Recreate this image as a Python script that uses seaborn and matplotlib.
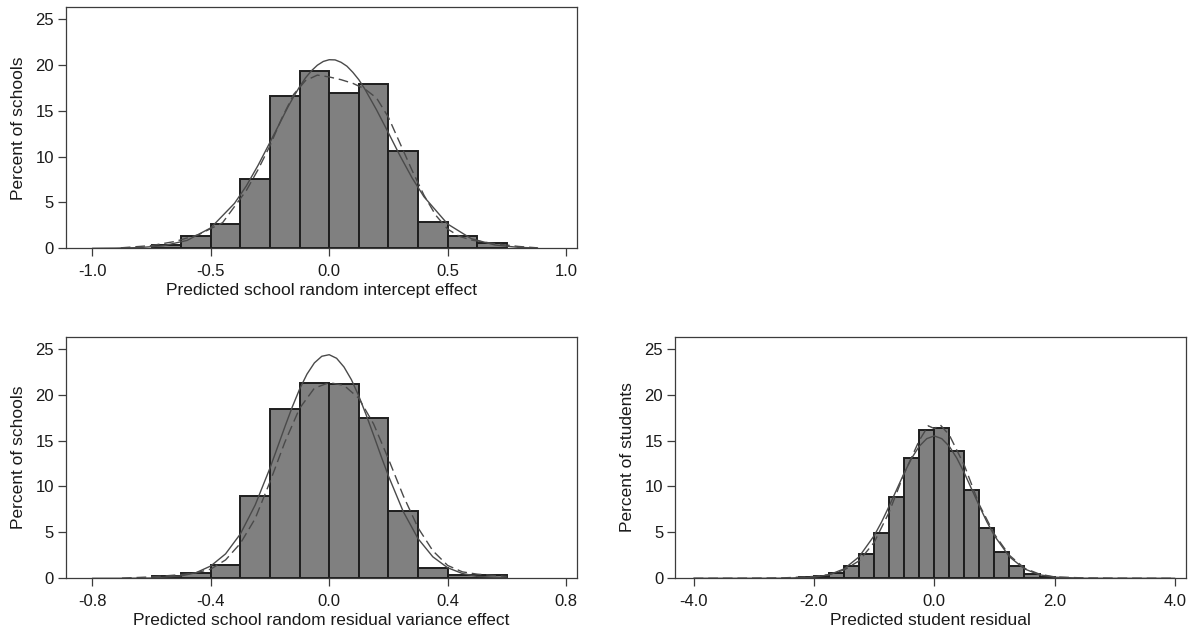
import numpy as np
import matplotlib
matplotlib.use("Agg")
import matplotlib.pyplot as plt
from matplotlib.ticker import FormatStrFormatter
import seaborn as sns

# ---- données ----
# Panneau 1 : effet aléatoire école (intercept)
intercept_edges = [-0.75, -0.625, -0.5, -0.375, -0.25, -0.125, 0.0, 0.125, 0.25, 0.375, 0.5, 0.625, 0.75]
intercept_pct = [0.4, 1.3, 2.65, 7.6, 16.6, 19.3, 17.0, 17.95, 10.6, 2.9, 1.3, 0.6]
intercept_normal_x = [-1.0, -0.9, -0.8, -0.7, -0.6, -0.5, -0.4, -0.35, -0.3, -0.25, -0.2, -0.175, -0.15,
                      -0.125, -0.1, -0.075, -0.05, -0.025, 0.0, 0.025, 0.05, 0.075, 0.1, 0.125, 0.15,
                      0.2, 0.25, 0.3, 0.35, 0.4, 0.5, 0.6, 0.7, 0.8, 0.88]
intercept_normal_y = [0.0, 0.02, 0.08, 0.28, 0.86, 2.23, 4.9, 6.8, 9.07, 11.57, 14.1, 15.38, 16.55,
                      17.63, 18.6, 19.37, 19.98, 20.39, 20.58, 20.56, 20.3, 19.87, 19.2, 18.4, 17.4,
                      15.1, 12.6, 10.05, 7.68, 5.63, 2.65, 1.05, 0.36, 0.1, 0.03]
intercept_kde_x = [-0.88, -0.75, -0.65, -0.55, -0.45, -0.35, -0.3, -0.25, -0.2, -0.15, -0.1, -0.05,
                   0.0, 0.05, 0.1, 0.15, 0.2, 0.25, 0.3, 0.35, 0.4, 0.45, 0.5, 0.55, 0.6, 0.7, 0.8, 0.88]
intercept_kde_y = [0.05, 0.3, 0.75, 1.5, 2.8, 6.3, 8.6, 11.2, 14.2, 16.8, 18.3, 18.9,
                   18.7, 18.4, 18.0, 17.4, 16.4, 14.3, 11.4, 8.5, 5.8, 3.6, 2.1, 1.3, 0.9, 0.5, 0.2, 0.05]

# Panneau 2 : effet aléatoire école (variance résiduelle)
variance_edges = [-0.6, -0.5, -0.4, -0.3, -0.2, -0.1, 0.0, 0.1, 0.2, 0.3, 0.4, 0.5, 0.6]
variance_pct = [0.25, 0.6, 1.4, 9.0, 18.4, 21.3, 21.2, 17.4, 7.3, 1.1, 0.35, 0.4]
variance_normal_x = [-0.8, -0.7, -0.6, -0.5, -0.45, -0.4, -0.35, -0.3, -0.25, -0.2, -0.175, -0.15, -0.125,
                     -0.1, -0.075, -0.05, -0.025, 0.0, 0.025, 0.05, 0.075, 0.1, 0.125, 0.15, 0.175,
                     0.2, 0.25, 0.3, 0.35, 0.4, 0.45, 0.5, 0.6]
variance_normal_y = [0.0, 0.0, 0.03, 0.26, 0.61, 1.34, 2.66, 4.83, 7.98, 12.0, 14.23, 16.47, 18.63,
                     20.59, 22.23, 23.45, 24.17, 24.34, 23.95, 23.0, 21.62, 19.84, 17.78, 15.58, 13.32,
                     11.15, 7.27, 4.32, 2.34, 1.15, 0.52, 0.21, 0.03]
variance_kde_x = [-0.7, -0.6, -0.5, -0.45, -0.4, -0.35, -0.3, -0.25, -0.2, -0.15, -0.1, -0.05,
                  0.0, 0.05, 0.1, 0.15, 0.2, 0.25, 0.3, 0.35, 0.4, 0.45, 0.5, 0.6]
variance_kde_y = [0.02, 0.15, 0.4, 0.6, 1.0, 2.0, 3.8, 6.5, 10.5, 14.8, 18.5, 20.7,
                  21.3, 21.0, 19.6, 16.8, 13.0, 9.0, 5.5, 3.0, 1.4, 0.7, 0.45, 0.2]

# Panneau 3 : résidu élève
student_edges = [-2.25, -2.0, -1.75, -1.5, -1.25, -1.0, -0.75, -0.5, -0.25, 0.0,
                 0.25, 0.5, 0.75, 1.0, 1.25, 1.5, 1.75, 2.0]
student_pct = [0.1, 0.25, 0.6, 1.35, 2.65, 4.9, 8.8, 13.15, 16.1, 16.4,
               13.85, 9.6, 5.5, 2.85, 1.3, 0.45, 0.18]
student_normal_x = [-4.0, -3.0, -2.5, -2.0, -1.75, -1.5, -1.25, -1.0, -0.875, -0.75, -0.625, -0.5,
                    -0.375, -0.25, -0.125, 0.0, 0.125, 0.25, 0.375, 0.5, 0.625, 0.75, 0.875,
                    1.0, 1.25, 1.5, 1.75, 2.0, 2.5, 3.0, 4.0]
student_normal_y = [0.0, 0.0, 0.01, 0.12, 0.38, 1.02, 2.34, 4.63, 6.14, 7.86, 9.66, 11.46,
                    13.08, 14.37, 15.2, 15.5, 15.2, 14.37, 13.08, 11.46, 9.66, 7.86, 6.14,
                    4.63, 2.34, 1.02, 0.38, 0.12, 0.01, 0.0, 0.0]
student_kde_x = [-4.0, -3.0, -2.5, -2.0, -1.75, -1.5, -1.25, -1.0, -0.75, -0.5, -0.25, -0.1,
                 0.0, 0.1, 0.25, 0.5, 0.75, 1.0, 1.25, 1.5, 1.75, 2.0, 2.5, 3.0, 4.0]
student_kde_y = [0.0, 0.02, 0.05, 0.2, 0.4, 0.9, 1.9, 3.9, 7.2, 11.4, 15.0, 16.6,
                 16.3, 16.7, 15.6, 12.3, 8.0, 4.8, 2.5, 1.1, 0.45, 0.15, 0.04, 0.02, 0.0]

y_ticks = [0, 5, 10, 15, 20, 25]

# ---- style ----
sns.set_style("ticks")
plt.rcParams['font.family'] = ['Liberation Sans', 'DejaVu Sans']
plt.rcParams['axes.unicode_minus'] = False

BAR_FILL = '#808080'
BAR_EDGE = '#1e1e1e'
LINE_COL = '#4a4a4a'
FRAME_COL = '#3c3c3c'
TEXT_COL = '#1a1a1a'


def draw_panel(ax, edges, pct, nx, ny, kx, ky, xticks, xlim, xlabel, ylabel):
    # Barres de l'histogramme (données déjà regroupées, poids = pourcentages)
    centers = [(a + b) / 2 for a, b in zip(edges[:-1], edges[1:])]
    sns.histplot(x=centers, weights=pct, bins=edges, ax=ax, color=BAR_FILL,
                 edgecolor=BAR_EDGE, linewidth=1.4, alpha=1)
    # Courbe normale (trait plein) et densité noyau (tirets)
    sns.lineplot(x=nx, y=ny, ax=ax, color=LINE_COL, linewidth=1.0)
    sns.lineplot(x=kx, y=ky, ax=ax, color=LINE_COL, linewidth=1.0,
                 linestyle=(0, (7, 3.5)))

    ax.set_xlim(*xlim)
    ax.set_ylim(0, 26.3)
    ax.set_xticks(xticks)
    ax.set_yticks(y_ticks)
    ax.xaxis.set_major_formatter(FormatStrFormatter('%.1f'))
    ax.tick_params(axis='both', length=5.5, width=0.9, color=FRAME_COL,
                   labelsize=12, labelcolor=TEXT_COL, pad=3)
    ax.tick_params(axis='x', pad=6)
    for sp in ax.spines.values():
        sp.set_visible(True)
        sp.set_color(FRAME_COL)
        sp.set_linewidth(0.9)
    ax.set_xlabel(xlabel, fontsize=12.5, color=TEXT_COL, labelpad=3)
    ax.set_ylabel(ylabel, fontsize=12.5, color=TEXT_COL, labelpad=7)


W, H = 1195, 632
fig = plt.figure(figsize=(W / 100, H / 100), dpi=100)


def axes_px(left, top, right, bottom):
    return fig.add_axes([left / W, 1 - bottom / H, (right - left) / W, (bottom - top) / H])


ax1 = axes_px(65.7, 7.3, 577.3, 248.3)
ax2 = axes_px(65.7, 336.7, 577.3, 578.3)
ax3 = axes_px(675, 336.7, 1185.7, 578.3)

draw_panel(ax1, intercept_edges, intercept_pct, intercept_normal_x, intercept_normal_y,
           intercept_kde_x, intercept_kde_y, [-1.0, -0.5, 0.0, 0.5, 1.0], (-1.1125, 1.0475),
           'Predicted school random intercept effect', 'Percent of schools')
draw_panel(ax2, variance_edges, variance_pct, variance_normal_x, variance_normal_y,
           variance_kde_x, variance_kde_y, [-0.8, -0.4, 0.0, 0.4, 0.8], (-0.89, 0.838),
           'Predicted school random residual variance effect', 'Percent of schools')
draw_panel(ax3, student_edges, student_pct, student_normal_x, student_normal_y,
           student_kde_x, student_kde_y, [-4.0, -2.0, 0.0, 2.0, 4.0], (-4.31, 4.18),
           'Predicted student residual', 'Percent of students')

fig.savefig('out.png', dpi=100)
